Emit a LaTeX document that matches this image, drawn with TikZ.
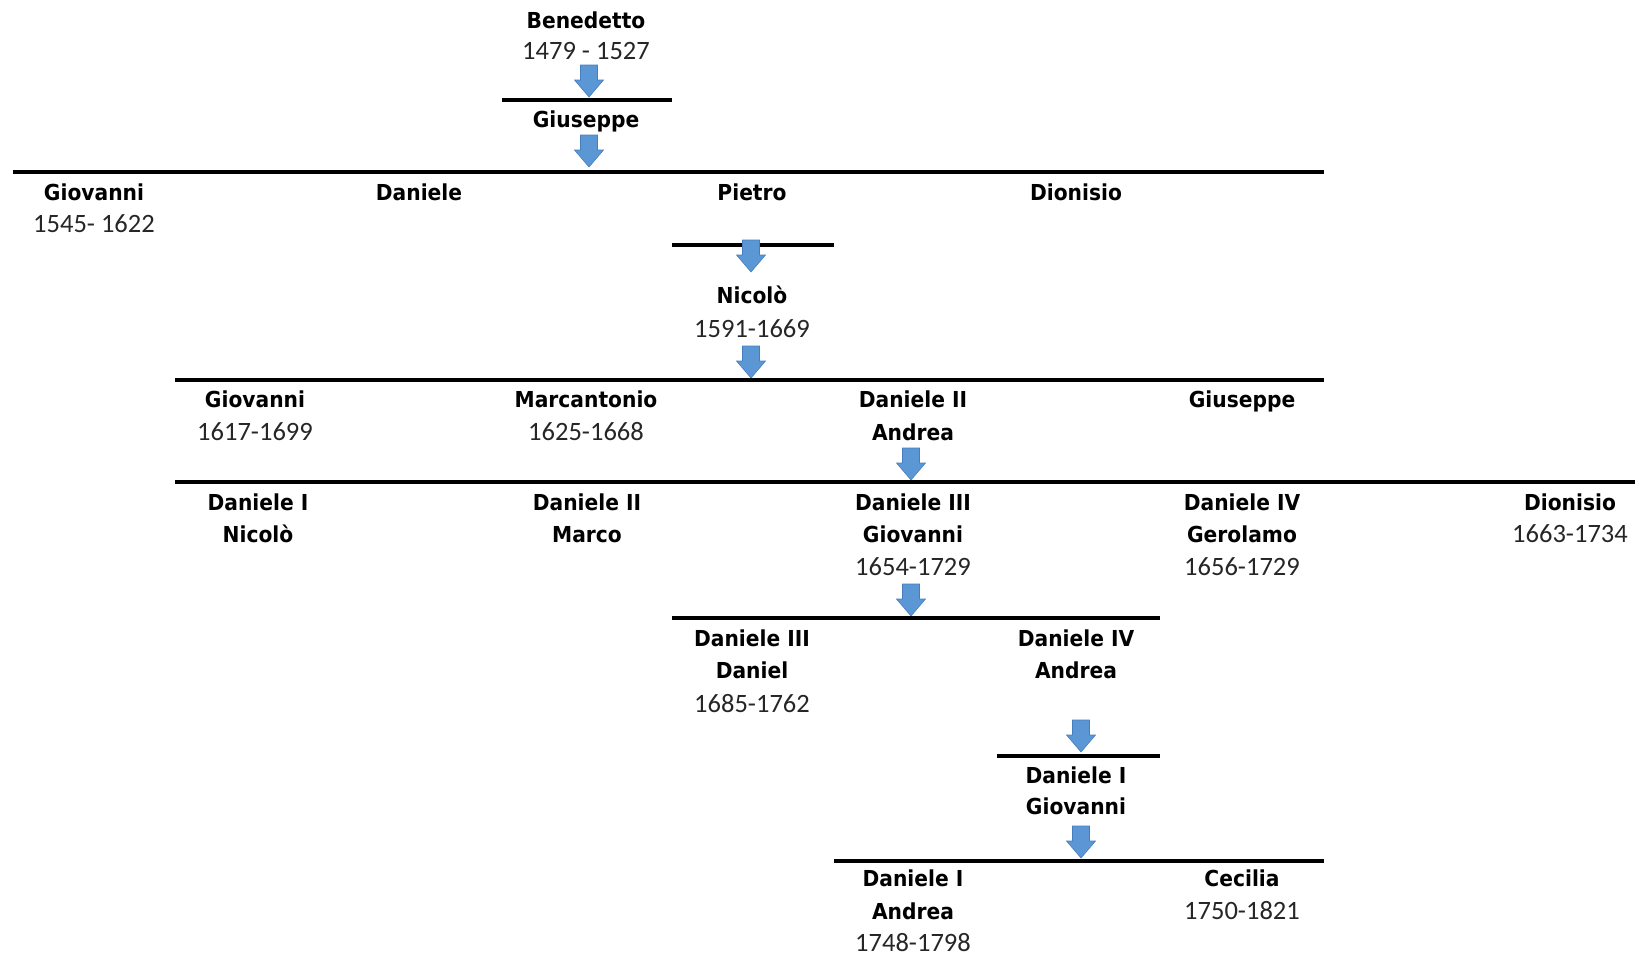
\documentclass[tikz,border=0pt]{standalone}
\usepackage{fontspec}
\setmainfont{Carlito}
\newfontfamily\namefont{DejaVu Sans}[FakeStretch=0.92]
\definecolor{arrowblue}{RGB}{91,150,213}
\definecolor{arrowedge}{RGB}{70,125,190}

\tikzset{
  pname/.style={font={\namefont\bfseries\fontsize{22}{26}\selectfont}, anchor=base, inner sep=0},
  yrs/.style={font={\fontsize{26.5}{30}\selectfont}, anchor=base, inner sep=0, text=black!85},
  bar/.style={line width=4.8pt},
  pics/famarrow/.style={code={
    \draw[fill=arrowblue, draw=arrowedge, line width=0.6pt]
      (-8.5,0) -- (8.5,0) -- (8.5,15) -- (14.5,15) -- (0,32) -- (-14.5,15) -- (-8.5,15) -- cycle;
  }}
}

\begin{document}
\begin{tikzpicture}[x=1pt,y=-1pt]
    \useasboundingbox (0,0) rectangle (1635,956);

    %Benedetto
    \node[pname] (benedetto) at (586,28) {Benedetto};
    \node[yrs] (benedetto-y) at (586,59) {1479 - 1527};
    \pic at (589,65) {famarrow};
    \draw[bar] (502,100) -- (672,100);

    %Giuseppe
    \node[pname] (giuseppe) at (586,127) {Giuseppe};
    \pic at (589,135) {famarrow};
    \draw[bar] (13,172) -- (1324,172);

    %children of Giuseppe
    \node[pname] (giovanni) at (94,200) {Giovanni};
    \node[yrs] (giovanni-y) at (94,232) {1545- 1622};
    \node[pname] (daniele) at (419,200) {Daniele};
    \node[pname] (pietro) at (752,200) {Pietro};
    \node[pname] (dionisio) at (1076,200) {Dionisio};

    %Pietro -> Nicolo
    \draw[bar] (672,245) -- (834,245);
    \pic at (751,240) {famarrow};
    \node[pname] (nicolo) at (752,303) {Nicolò};
    \node[yrs] (nicolo-y) at (752,337) {1591-1669};
    \pic at (751,346) {famarrow};
    \draw[bar] (175,380) -- (1324,380);

    %children of Nicolo
    \node[pname] (giovanni2) at (255,407) {Giovanni};
    \node[yrs] (giovanni2-y) at (255,440) {1617-1699};
    \node[pname] (marcantonio) at (586,407) {Marcantonio};
    \node[yrs] (marcantonio-y) at (586,440) {1625-1668};
    \node[pname] (andrea) at (913,407) {Daniele II};
    \node[pname] (andrea-n) at (913,440) {Andrea};
    \node[pname] (giuseppe2) at (1242,407) {Giuseppe};
    \pic at (911,448) {famarrow};
    \draw[bar] (175,482) -- (1635,482);

    %children of Andrea
    \node[pname] (nicolo2) at (258,510) {Daniele I};
    \node[pname] (nicolo2-n) at (258,542) {Nicolò};
    \node[pname] (marco) at (587,510) {Daniele II};
    \node[pname] (marco-n) at (587,542) {Marco};
    \node[pname] (giovanni3) at (913,510) {Daniele III};
    \node[pname] (giovanni3-n) at (913,542) {Giovanni};
    \node[yrs] (giovanni3-y) at (913,575) {1654-1729};
    \node[pname] (gerolamo) at (1242,510) {Daniele IV};
    \node[pname] (gerolamo-n) at (1242,542) {Gerolamo};
    \node[yrs] (gerolamo-y) at (1242,575) {1656-1729};
    \node[pname] (dionisio2) at (1570,510) {Dionisio};
    \node[yrs] (dionisio2-y) at (1570,542) {1663-1734};
    \pic at (911,584) {famarrow};
    \draw[bar] (672,618) -- (1160,618);

    %children of Giovanni
    \node[pname] (daniel) at (752,646) {Daniele III};
    \node[pname] (daniel-n) at (752,678) {Daniel};
    \node[yrs] (daniel-y) at (752,712) {1685-1762};
    \node[pname] (andrea2) at (1076,646) {Daniele IV};
    \node[pname] (andrea2-n) at (1076,678) {Andrea};
    \pic at (1081,720) {famarrow};
    \draw[bar] (997,756) -- (1160,756);

    %Giovanni
    \node[pname] (giovanni4) at (1076,783) {Daniele I};
    \node[pname] (giovanni4-n) at (1076,814) {Giovanni};
    \pic at (1081,826) {famarrow};
    \draw[bar] (834,861) -- (1324,861);

    %last row
    \node[pname] (andrea3) at (913,886) {Daniele I};
    \node[pname] (andrea3-n) at (913,919) {Andrea};
    \node[yrs] (andrea3-y) at (913,951) {1748-1798};
    \node[pname] (cecilia) at (1242,886) {Cecilia};
    \node[yrs] (cecilia-y) at (1242,919) {1750-1821};
\end{tikzpicture}
\end{document}
